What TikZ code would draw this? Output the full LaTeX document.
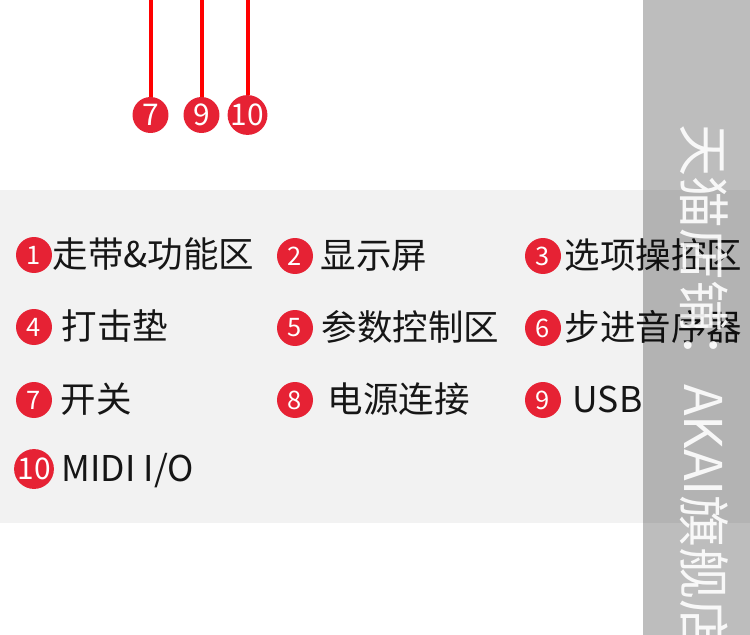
\documentclass[tikz,border=0pt]{standalone}
\usepackage{fontspec}
\newfontfamily\cjk{Noto Sans CJK SC}
\usetikzlibrary{positioning}
\definecolor{bandgray}{RGB}{242,242,242}
\definecolor{dotred}{RGB}{230,34,52}
\definecolor{linered}{RGB}{255,0,0}
\definecolor{inkblack}{RGB}{22,22,22}

\begin{document}
\begin{tikzpicture}[x=0.02cm, y=-0.02cm]
    \tikzset{
      badge/.style={circle, fill=dotred, text=white, inner sep=0pt,
        minimum size=0.72cm, font=\cjk\fontsize{14.5}{15}\selectfont},
      bigbadge/.style={badge, font=\cjk\fontsize{17}{17}\selectfont},
      item/.style={anchor=west, inner sep=0pt, text=inkblack,
        text height=16.2pt, text depth=1.6pt,
        font=\cjk\fontsize{20.2}{21}\selectfont},
      callout/.style={draw=linered, line width=0.08cm},
      stripe/.style={fill=black, opacity=0.26},
      stamp/.style={rotate=-90, anchor=west, inner sep=0pt, text=white,
        text opacity=0.9, text height=23.7pt, text depth=2.4pt,
        font=\cjk\fontsize{29.6}{30}\selectfont}
    }
    \useasboundingbox (0,0) rectangle (750,635);
    \fill[white] (0,0) rectangle (750,635);
    \fill[bandgray] (0,190) rectangle (750,523);

    \node[bigbadge] (c7) at (150.5,115) {7};
    \node[bigbadge] (c9) at (201.5,115) {9};
    \node[bigbadge] (c10) at (247.5,115) {10};
    \coordinate (t7) at (c7.north |- 0,0);
    \coordinate (t9) at (c9.north |- 0,0);
    \coordinate (t10) at (c10.north |- 0,0);
    \draw[callout] (t7) -- (c7.north);
    \draw[callout] (t9) -- (c9.north);
    \draw[callout] (t10) -- (c10.north);

    \node[badge] (k1) at (34,255) {1};
    \node[item, right=0pt of k1] (l1) {走带\&功能区};
    \node[badge] (k2) at (295,256) {2};
    \node[item, right=0.14cm of k2] (l2) {显示屏};
    \node[badge] (k3) at (543,256) {3};
    \node[item, right=0.06cm of k3] (l3) {选项操控区};
    \node[badge] (k4) at (34,327) {4};
    \node[item, right=0.18cm of k4] (l4) {打击垫};
    \node[badge] (k5) at (295,328) {5};
    \node[item, right=0.16cm of k5] (l5) {参数控制区};
    \node[badge] (k6) at (543,328) {6};
    \node[item, right=0.06cm of k6] (l6) {步进音序器};
    \node[badge] (k7) at (34,400) {7};
    \node[item, right=0.16cm of k7] (l7) {开关};
    \node[badge] (k8) at (295,400) {8};
    \node[item, right=0.28cm of k8] (l8) {电源连接};
    \node[badge] (k9) at (543,400) {9};
    \node[item, right=0.22cm of k9] (l9) {USB};
    \node[bigbadge] (k10) at (34,469) {10};
    \node[item, right=0.14cm of k10] (l10) {MIDI I/O};

    \fill[stripe] (643,0) rectangle (750,635);
    \node[stamp] (shop) at (703,124) {天猫店铺：AKAI旗舰店};
\end{tikzpicture}
\end{document}
